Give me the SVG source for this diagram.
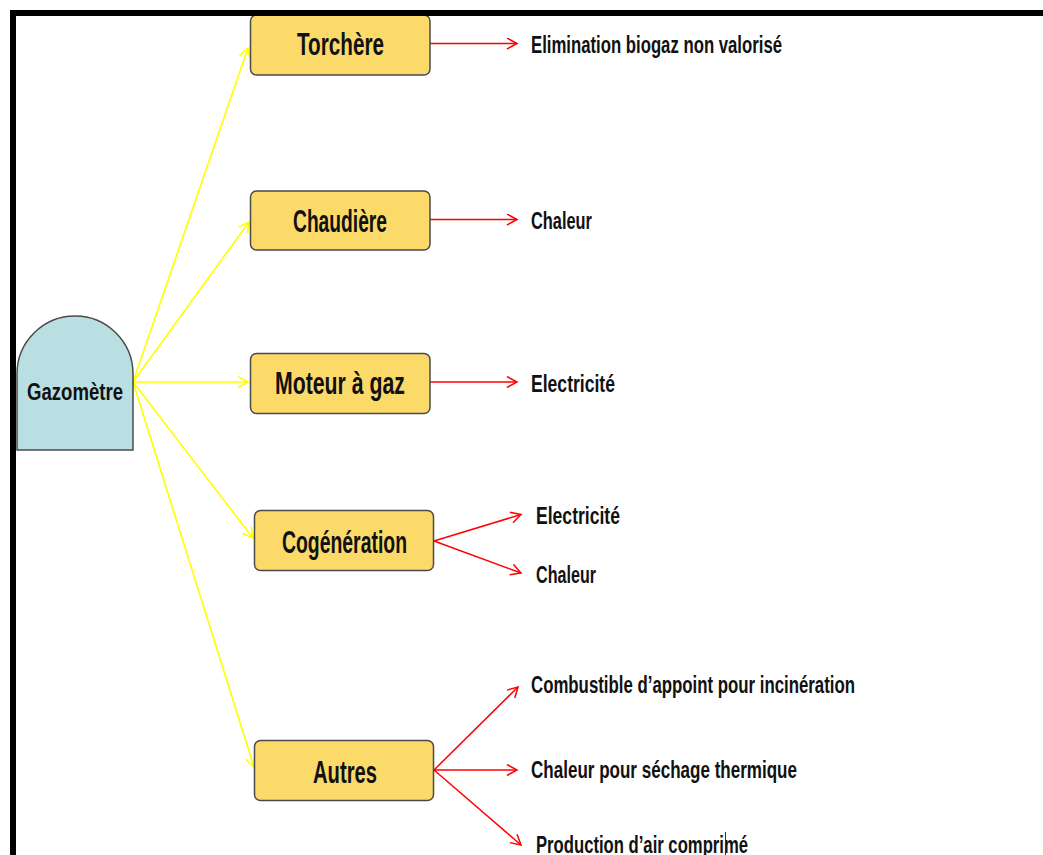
<svg xmlns="http://www.w3.org/2000/svg" width="1043" height="855" viewBox="0 0 1043 855">
  <style>
    .box { fill: #FBDA6A; stroke: #4a4a4a; stroke-width: 1.5; }
    .tank { fill: #B9DFE2; stroke: #4a4a4a; stroke-width: 1.5; }
    .btxt { font-family: "Liberation Sans", "DejaVu Sans", sans-serif; font-size: 31px; font-weight: bold; fill: #111; }
    .ltxt { font-family: "Liberation Sans", "DejaVu Sans", sans-serif; font-size: 23px; font-weight: bold; fill: #111; }
    .feed { stroke: #FFFF00; stroke-width: 1.6; fill: none; marker-end: url(#ay); }
    .out { stroke: #FF0000; stroke-width: 1.5; fill: none; marker-end: url(#ar); }
  </style>
  <defs>
    <marker id="ay" markerUnits="userSpaceOnUse" markerWidth="14" markerHeight="14" refX="11" refY="6" orient="auto">
      <path d="M1,0.5 L11,6 L1,11.5" fill="none" stroke="#FFFF00" stroke-width="1.6"/>
    </marker>
    <marker id="ar" markerUnits="userSpaceOnUse" markerWidth="14" markerHeight="14" refX="11" refY="6" orient="auto">
      <path d="M1,0.5 L11,6 L1,11.5" fill="none" stroke="#FF0000" stroke-width="1.5"/>
    </marker>
  </defs>

  <rect width="1043" height="855" fill="#fff"/>

  <!-- connectors -->
  <g id="connectors">
    <line class="feed" x1="133" y1="382" x2="248" y2="48"/>
    <line class="feed" x1="133" y1="382" x2="249" y2="222"/>
    <line class="feed" x1="133" y1="382" x2="248" y2="382"/>
    <line class="feed" x1="133" y1="382" x2="253" y2="538"/>
    <line class="feed" x1="133" y1="382" x2="254" y2="767"/>

    <line class="out" x1="430" y1="43.5" x2="517" y2="43.5"/>
    <line class="out" x1="430" y1="219.5" x2="517" y2="219.5"/>
    <line class="out" x1="430" y1="382" x2="517" y2="382"/>
    <line class="out" x1="434" y1="541" x2="521" y2="514.5"/>
    <line class="out" x1="434" y1="541" x2="521" y2="573"/>
    <line class="out" x1="434" y1="770" x2="518" y2="687"/>
    <line class="out" x1="434" y1="770" x2="517" y2="770"/>
    <line class="out" x1="434" y1="770" x2="521" y2="845"/>
  </g>

  <!-- gas holder -->
  <g id="gazometre">
    <path class="tank" d="M17,450 L17,374 A58,58 0 0 1 133,374 L133,450 Z"/>
    <text class="ltxt" x="27" y="400" textLength="96" lengthAdjust="spacingAndGlyphs" style="font-size:24px">Gazomètre</text>
  </g>

  <g id="torchere">
    <rect class="box" x="250.5" y="15" width="179.5" height="60" rx="6"/>
    <text class="btxt" x="297" y="55" textLength="87" lengthAdjust="spacingAndGlyphs">Torchère</text>
  </g>
  <g id="chaudiere">
    <rect class="box" x="250.5" y="191" width="179.5" height="59" rx="6"/>
    <text class="btxt" x="293" y="232" textLength="94" lengthAdjust="spacingAndGlyphs">Chaudière</text>
  </g>
  <g id="moteur">
    <rect class="box" x="250.5" y="353.5" width="179.5" height="60" rx="6"/>
    <text class="btxt" x="275" y="394" textLength="130" lengthAdjust="spacingAndGlyphs">Moteur à gaz</text>
  </g>
  <g id="cogeneration">
    <rect class="box" x="254.5" y="510.5" width="179" height="60" rx="6"/>
    <text class="btxt" x="282" y="553" textLength="125" lengthAdjust="spacingAndGlyphs">Cogénération</text>
  </g>
  <g id="autres">
    <rect class="box" x="254.5" y="740.5" width="179" height="60" rx="6"/>
    <text class="btxt" x="313" y="783" textLength="64" lengthAdjust="spacingAndGlyphs">Autres</text>
  </g>

  <!-- uses -->
  <g id="labels">
    <text class="ltxt" x="531" y="53" textLength="251" lengthAdjust="spacingAndGlyphs">Elimination biogaz non valorisé</text>
    <text class="ltxt" x="531" y="229" textLength="61" lengthAdjust="spacingAndGlyphs">Chaleur</text>
    <text class="ltxt" x="531" y="391.5" textLength="84" lengthAdjust="spacingAndGlyphs">Electricité</text>
    <text class="ltxt" x="536" y="523.5" textLength="84" lengthAdjust="spacingAndGlyphs">Electricité</text>
    <text class="ltxt" x="536" y="583" textLength="60" lengthAdjust="spacingAndGlyphs">Chaleur</text>
    <text class="ltxt" x="531" y="693" textLength="324" lengthAdjust="spacingAndGlyphs">Combustible d’appoint pour incinération</text>
    <text class="ltxt" x="531" y="778" textLength="266" lengthAdjust="spacingAndGlyphs">Chaleur pour séchage thermique</text>
    <text class="ltxt" x="536" y="853" textLength="212" lengthAdjust="spacingAndGlyphs">Production d’air comprimé</text>
    <line x1="725.5" y1="832" x2="725.5" y2="855" stroke="#333" stroke-width="1"/>
  </g>

  <!-- frame -->
  <rect x="10" y="10" width="1033" height="6" fill="#000"/>
  <rect x="10" y="10" width="6" height="845" fill="#000"/>
</svg>
